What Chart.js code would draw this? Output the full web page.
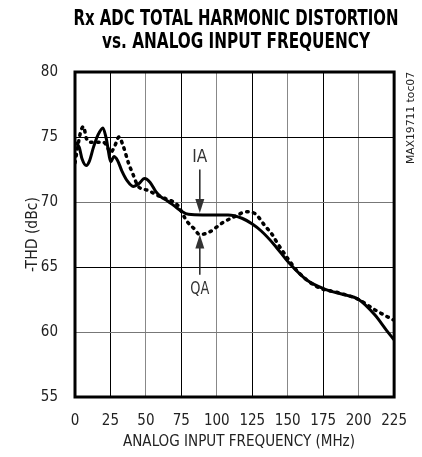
<!DOCTYPE html>
<html>
<head>
<meta charset="utf-8">
<script src="https://cdn.jsdelivr.net/npm/chart.js@4.4.1/dist/chart.umd.min.js"></script>
<style>
  body { margin: 0; background: #fff; }
  canvas { display: block; }
</style>
</head>
<body>
<canvas id="thd-chart" width="422" height="457"></canvas>
<script>
// values (MHz, -dBc)
const iaFreq = [0, 3, 5, 8, 10, 13, 16, 19.7, 22, 25.4, 27.4, 30, 33, 37, 41, 45, 49, 53, 57, 60.6, 65, 70, 75, 80, 90, 100, 108, 117.7, 125, 131.5, 140.6, 151, 163.4, 176, 188.6, 200, 211.5, 219.5, 225];
const iaThd = [74.6, 74.2, 73.3, 72.8, 73.1, 74.2, 75.1, 75.7, 74.9, 73.1, 73.5, 73.2, 72.4, 71.6, 71.2, 71.4, 71.8, 71.5, 70.8, 70.4, 70.1, 69.7, 69.3, 69.05, 69.0, 69.0, 69.0, 68.75, 68.3, 67.75, 66.7, 65.3, 64.0, 63.3, 62.9, 62.5, 61.3, 60.15, 59.4];

const qaFreq = [0, 2, 4, 6, 8, 11, 15, 20, 22.5, 25, 28, 31, 34, 37.7, 41, 44.6, 51.4, 58.3, 65, 72, 79, 83.5, 88, 94.9, 104, 113, 121, 127, 133.7, 139, 142.9, 151, 156.6, 170.3, 186.3, 200, 211.5, 225];
const qaThd = [73.0, 74.3, 75.4, 75.8, 74.9, 74.6, 74.6, 74.6, 74.3, 73.8, 74.3, 75.0, 74.3, 73.0, 72.1, 71.2, 70.9, 70.5, 70.2, 69.8, 68.5, 68.0, 67.5, 67.7, 68.4, 68.9, 69.25, 69.1, 68.2, 67.5, 66.8, 65.5, 64.7, 63.5, 63.0, 62.5, 61.7, 60.9];

const xTicks = [0, 25, 50, 75, 100, 125, 150, 175, 200, 225];
const yTicks = [55, 60, 65, 70, 75, 80];

const titleLines = ['Rx ADC TOTAL HARMONIC DISTORTION', 'vs. ANALOG INPUT FREQUENCY'];
const xTitle = 'ANALOG INPUT FREQUENCY (MHz)';
const yTitle = '-THD (dBc)';
const noteText = 'MAX19711 toc07';

const FONT = "'Liberation Sans Narrow', 'DejaVu Sans Condensed', 'Liberation Sans', sans-serif";

const toPoints = (xs, ys) => xs.map((x, i) => ({x: x, y: ys[i]}));

// draws text squeezed horizontally to a given width
function fitText(ctx, text, cx, cy, width, font) {
    ctx.save();
    ctx.font = font;
    const w = ctx.measureText(text).width;
    const s = width / w;
    ctx.translate(cx, cy);
    ctx.scale(s, 1);
    ctx.textAlign = 'center';
    ctx.textBaseline = 'middle';
    ctx.fillText(text, 0, 0);
    ctx.restore();
}

function arrow(ctx, x, yFrom, yTo) {
    const dir = yTo > yFrom ? 1 : -1;
    ctx.beginPath();
    ctx.moveTo(x, yFrom);
    ctx.lineTo(x, yTo - dir * 12);
    ctx.lineWidth = 1.5;
    ctx.stroke();
    ctx.beginPath();
    ctx.moveTo(x, yTo);
    ctx.lineTo(x - 4.5, yTo - dir * 14);
    ctx.lineTo(x + 4.5, yTo - dir * 14);
    ctx.closePath();
    ctx.fill();
}

const decorations = {
    id: 'decorations',
    afterDraw(chart) {
        const ctx = chart.ctx;
        const area = chart.chartArea;
        const xs = chart.scales.x;
        const ys = chart.scales.y;
        ctx.save();
        ctx.fillStyle = '#000';
        ctx.strokeStyle = '#000';

        // plot frame
        ctx.lineWidth = 3;
        ctx.strokeRect(area.left, area.top, area.right - area.left, area.bottom - area.top);

        // titles
        fitText(ctx, titleLines[0], 236, 19, 325, "bold 22px " + FONT);
        fitText(ctx, titleLines[1], 236, 42, 268, "bold 22px " + FONT);
        ctx.fillStyle = '#222';
        fitText(ctx, xTitle, 239, 442, 232, "16px " + FONT);

        ctx.save();
        ctx.translate(33, (area.top + area.bottom) / 2);
        ctx.rotate(-Math.PI / 2);
        fitText(ctx, yTitle, 0, 0, 75, "16px " + FONT);
        ctx.restore();

        ctx.save();
        ctx.translate(411, 118);
        ctx.rotate(-Math.PI / 2);
        fitText(ctx, noteText, 0, 0, 92, "10px " + FONT);
        ctx.restore();

        // IA / QA labels with arrows
        const ax = xs.getPixelForValue(88);
        ctx.fillStyle = '#333';
        ctx.strokeStyle = '#222';
        fitText(ctx, 'IA', ax, ys.getPixelForValue(73.4), 15, "17px " + FONT);
        arrow(ctx, ax, ys.getPixelForValue(72.5), ys.getPixelForValue(69.15));
        fitText(ctx, 'QA', ax, ys.getPixelForValue(63.3), 19, "17px " + FONT);
        arrow(ctx, ax, ys.getPixelForValue(64.4), ys.getPixelForValue(67.5));
        ctx.restore();
    }
};

new Chart(document.getElementById('thd-chart'), {
    type: 'line',
    data: {
        datasets: [{
            label: 'IA',
            data: toPoints(iaFreq, iaThd),
            borderColor: '#000',
            borderWidth: 3,
            pointRadius: 0,
            cubicInterpolationMode: 'monotone',
            fill: false
        }, {
            label: 'QA',
            data: toPoints(qaFreq, qaThd),
            borderColor: '#000',
            borderWidth: 3.5,
            borderDash: [1.5, 5.5],
            borderCapStyle: 'round',
            pointRadius: 0,
            cubicInterpolationMode: 'monotone',
            fill: false
        }]
    },
    options: {
        responsive: false,
        animation: false,
        layout: {padding: {top: 72, right: 19, left: 0, bottom: 0}},
        plugins: {
            legend: {display: false},
            title: {display: false},
            tooltip: {enabled: false}
        },
        scales: {
            x: {
                type: 'linear',
                min: 0,
                max: 225,
                afterFit: (scale) => { scale.height = 60; },
                afterBuildTicks: (scale) => { scale.ticks = xTicks.map(v => ({value: v})); },
                border: {display: false},
                grid: {
                    drawTicks: false,
                    lineWidth: 1,
                    color: (c) => (c.tick && c.tick.value / 25) % 2 === 1 ? '#000' : '#888'
                },
                ticks: {
                    padding: 15,
                    color: '#222',
                    font: {family: FONT, size: 15}
                }
            },
            y: {
                min: 55,
                max: 80,
                afterFit: (scale) => { scale.width = 75; },
                afterBuildTicks: (scale) => { scale.ticks = yTicks.map(v => ({value: v})); },
                border: {display: false},
                grid: {
                    drawTicks: false,
                    lineWidth: 1,
                    color: (c) => (c.tick && (c.tick.value === 75 || c.tick.value === 65)) ? '#000' : '#777'
                },
                ticks: {
                    padding: 17,
                    color: '#222',
                    font: {family: FONT, size: 15}
                }
            }
        }
    },
    plugins: [decorations]
});
</script>
</body>
</html>
